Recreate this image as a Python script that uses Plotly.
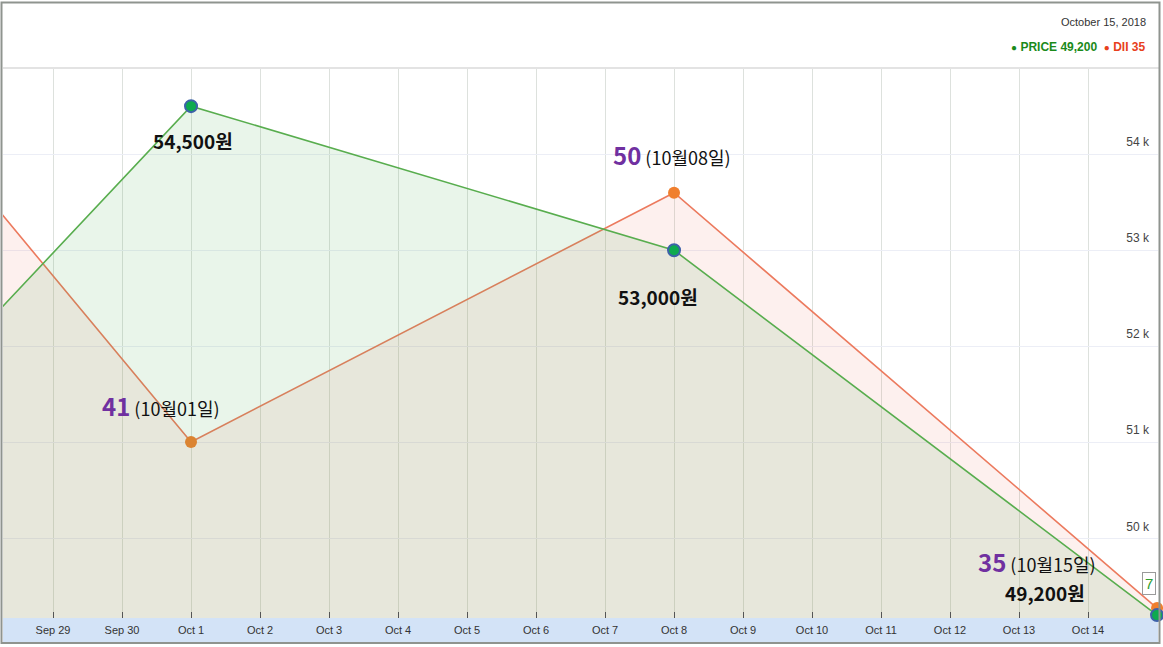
import plotly.graph_objects as go
from datetime import datetime, timedelta

# ---- data ----
dates = ["2018-09-24", "2018-10-01", "2018-10-08", "2018-10-15"]
price = [49150, 54500, 53000, 49200]
dii = [62, 41, 50, 35]
price_ticks = [50000, 51000, 52000, 53000, 54000]
price_tick_labels = ["50 k", "51 k", "52 k", "53 k", "54 k"]
x_tick_days = ["2018-09-29", "2018-09-30", "2018-10-01", "2018-10-02", "2018-10-03",
               "2018-10-04", "2018-10-05", "2018-10-06", "2018-10-07", "2018-10-08",
               "2018-10-09", "2018-10-10", "2018-10-11", "2018-10-12", "2018-10-13",
               "2018-10-14", "2018-10-15"]
x_tick_labels = ["Sep 29", "Sep 30", "Oct 1", "Oct 2", "Oct 3", "Oct 4", "Oct 5",
                 "Oct 6", "Oct 7", "Oct 8", "Oct 9", "Oct 10", "Oct 11", "Oct 12",
                 "Oct 13", "Oct 14", "Oct 15"]
x_range = ["2018-09-28 06:36", "2018-10-15 00:20"]
price_range = [49170, 54887]
dii_range = [34.64, 54.47]

W, H = 1163, 647
ML, MR, MT, MB = 3, 5, 69, 29
PW, PH = W - ML - MR, H - MT - MB

def px(x):
    return (x - ML) / PW

def py(y):
    return (H - MB - y) / PH

COND = "Liberation Sans, Arial, sans-serif"
KR = "Noto Sans CJK KR, Noto Sans, sans-serif"

fig = go.Figure()

fig.add_trace(go.Scatter(
    x=dates, y=dii, yaxis="y", mode="lines", fill="tozeroy",
    line=dict(color="#ec7a5e", width=1.6),
    fillcolor="rgba(240,110,90,0.10)", hoverinfo="skip", showlegend=False))
fig.add_trace(go.Scatter(
    x=dates, y=price, yaxis="y2", mode="lines", fill="tozeroy",
    line=dict(color="#58ad4e", width=1.6),
    fillcolor="rgba(76,175,80,0.12)", hoverinfo="skip", showlegend=False))
# markers (only the visible weekly points from Oct 1)
fig.add_trace(go.Scatter(
    x=dates[1:], y=dii[1:], yaxis="y", mode="markers", cliponaxis=False,
    marker=dict(color="#f07f2e", size=12, line=dict(width=0)),
    hoverinfo="skip", showlegend=False))
fig.add_trace(go.Scatter(
    x=dates[1:], y=price[1:], yaxis="y2", mode="markers", cliponaxis=False,
    marker=dict(color="#0eaa4f", size=12, line=dict(color="#3d62a8", width=2)),
    hoverinfo="skip", showlegend=False))

def kdate(d):
    dt = datetime.strptime(d, "%Y-%m-%d")
    return f"({dt.month}월{dt.day:02d}일)"

anns = []
# price labels
price_shifts = {1: (2, -34), 2: (-16, -46), 3: (-112, 23)}
for i, (xs, ys) in price_shifts.items():
    anns.append(dict(x=dates[i], y=price[i], xref="x", yref="y2",
                     text=f"<b>{price[i]:,}원</b>", showarrow=False,
                     xshift=xs, yshift=ys,
                     font=dict(family=KR, size=19, color="#111111")))
# DII labels
dii_shifts = {1: (-30, 36), 2: (-2, 38), 3: (-120, 47)}
for i, (xs, ys) in dii_shifts.items():
    anns.append(dict(x=dates[i], y=dii[i], xref="x", yref="y",
                     text=(f"<b><span style='font-size:24px;color:#7030a0'>{dii[i]}</span></b>"
                           f" {kdate(dates[i])}"),
                     showarrow=False, xshift=xs, yshift=ys,
                     font=dict(family=KR, size=18, color="#111111")))

last = datetime.strptime(dates[-1], "%Y-%m-%d")
anns.append(dict(x=1, y=py(22), xref="paper", yref="paper", xanchor="right",
                 yanchor="middle", xshift=-10, showarrow=False,
                 text=last.strftime("%B ") + str(last.day) + last.strftime(", %Y"),
                 font=dict(family=COND, size=11, color="#333333")))
anns.append(dict(x=1, y=py(47), xref="paper", yref="paper", xanchor="right",
                 yanchor="middle", xshift=-10, showarrow=False,
                 text=(f"<span style='color:#1a8a1a'><span style='font-size:10px'>●</span> "
                       f"<b>PRICE {price[-1]:,}</b></span>"
                       f"  <span style='color:#e8401c'><span style='font-size:10px'>●</span> "
                       f"<b>DII {dii[-1]}</b></span>"),
                 font=dict(family=COND, size=12)))
# small cursor balloon "7"
anns.append(dict(x=px(1149), y=py(583), xref="paper", yref="paper", showarrow=False,
                 xanchor="center", yanchor="middle",
                 text="7", bgcolor="white", bordercolor="#9a9a9a", borderwidth=1,
                 borderpad=2, font=dict(family=COND, size=15, color="#2e9e2e")))

shapes = [
    # axis band
    dict(type="rect", xref="paper", yref="paper", x0=0, x1=1, y0=0, y1=py(642),
         fillcolor="#d3e3f7", line=dict(width=0), layer="below"),
    # top separator
    dict(type="line", xref="paper", yref="paper", x0=px(3), x1=px(1159), y0=py(68), y1=py(68),
         line=dict(color="#e3e3e3", width=2)),
    # frame
    dict(type="rect", xref="paper", yref="paper", x0=px(1.5), x1=px(1159.5),
         y0=py(643), y1=py(2.5), line=dict(color="#8f948f", width=2), layer="above"),
]

fig.update_layout(
    width=W, height=H,
    margin=dict(l=ML, r=MR, t=MT, b=MB, autoexpand=False),
    paper_bgcolor="white", plot_bgcolor="white",
    showlegend=False, hovermode=False,
    annotations=anns, shapes=shapes,
    xaxis=dict(type="date", range=x_range, tickmode="array",
               tickvals=x_tick_days, ticktext=x_tick_labels,
               showgrid=True, gridcolor="#dde1dd", gridwidth=1,
               ticks="inside", ticklen=6, tickcolor="#555555", tickwidth=1,
               showline=False, zeroline=False, ticklabeloverflow="allow",
               automargin=False, ticklabelstandoff=4,
               tickfont=dict(family=COND, size=11, color="#333333")),
    yaxis=dict(range=dii_range, showgrid=False, showticklabels=False, zeroline=False,
               fixedrange=True, automargin=False),
    yaxis2=dict(range=price_range, overlaying="y", side="right", automargin=False,
                tickvals=price_ticks, ticktext=price_tick_labels,
                ticklabelposition="inside", ticklabelshift=-12, ticklabelstandoff=6,
                showgrid=True, gridcolor="#eceef6", gridwidth=1, zeroline=False,
                ticks="", showline=False,
                tickfont=dict(family=COND, size=12, color="#444444")),
)

fig.write_html("out.html",
               config={"displayModeBar": False},
               post_script="document.body.style.margin='0px';"
                           "document.body.style.overflow='hidden';")
